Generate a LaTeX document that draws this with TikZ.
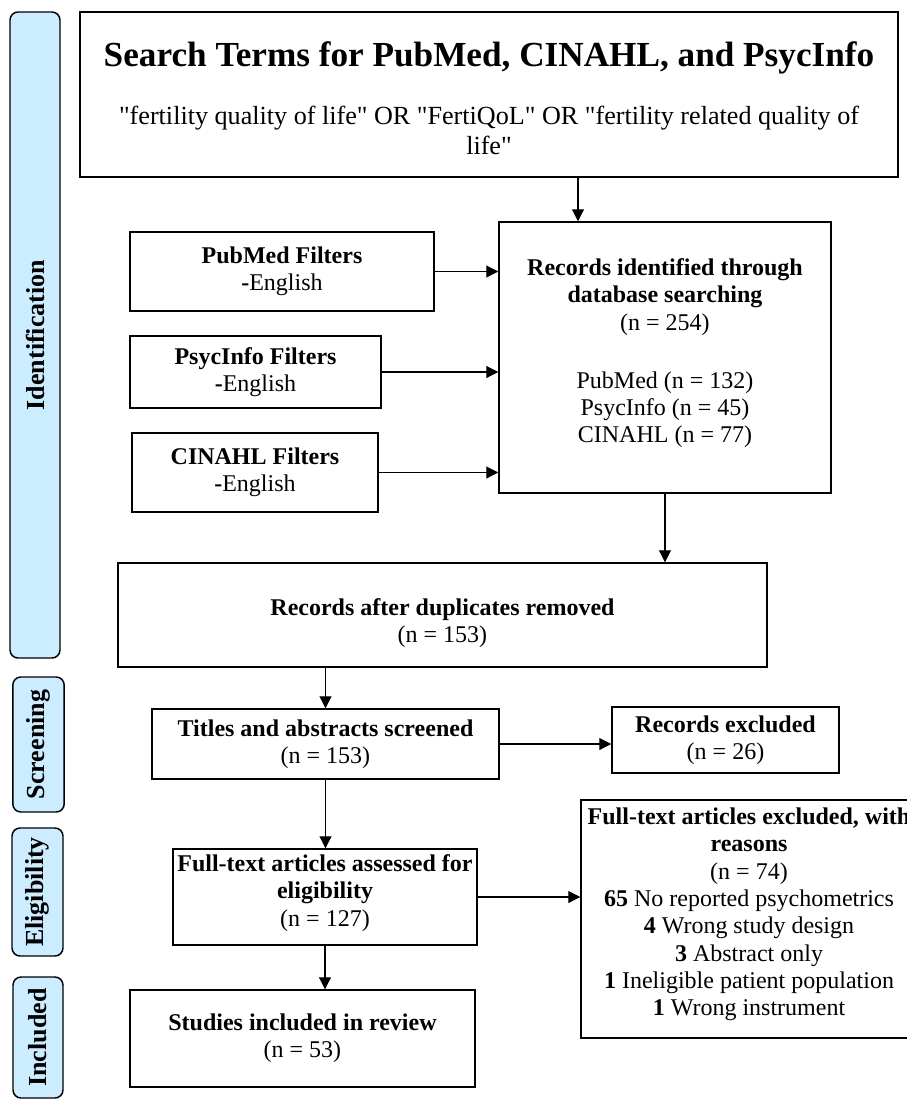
\documentclass[tikz,border=0pt]{standalone}
\usepackage{fontspec}
\setmainfont{Liberation Serif}
\usetikzlibrary{arrows.meta}
\definecolor{phaseblue}{RGB}{204,236,255}
\newcommand{\qq}{\textquotedbl}

\begin{document}
\begin{tikzpicture}[x=0.75pt,y=-0.75pt,>={Triangle[length=9pt,width=9pt]},
  box/.style={draw,line width=1.1pt,inner sep=0pt,align=center,
    font=\fontsize{18}{20.5}\selectfont},
  phasebox/.style={draw,line width=1.1pt,fill=phaseblue,rounded corners=6pt,
    rotate=90,inner sep=0pt,font=\fontsize{19.5}{22}\selectfont\bfseries},
  link/.style={->,line width=0.8pt}]
  \useasboundingbox (0,0) rectangle (907,1100);
  \clip (0,0) rectangle (907,1100);

  % phases on the left
  \node[phasebox,minimum width=484.5pt,minimum height=37.5pt] (ident) at (35,335) {Identification};
  \node[phasebox,minimum width=101.25pt,minimum height=38.5pt] (screen) at (38.5,744.5) {Screening};
  \node[phasebox,minimum width=96pt,minimum height=38.25pt] (elig) at (37.5,892) {Eligibility};
  \node[phasebox,minimum width=90.75pt,minimum height=37.5pt] (incl) at (38,1037.5) {Included};

  % identification
  \node[box,minimum width=613.5pt,minimum height=123.75pt,font=\fontsize{19.6}{22.5}\selectfont] (search) at (489,94.5)
    {{\fontsize{26.4}{30}\selectfont\bfseries\rule{0pt}{24pt}Search Terms for PubMed, CINAHL, and PsycInfo}\\[20.5pt]
     \qq fertility quality of life\qq{} OR \qq FertiQoL\qq{} OR \qq fertility related quality of\\ life\qq};
  \node[box,minimum width=249pt,minimum height=203.25pt] (rec) at (665,357.5)
    {\textbf{Records identified through}\\\textbf{database searching}\\(n = 254)\\[23pt]
     PubMed (n = 132)\\PsycInfo (n = 45)\\CINAHL (n = 77)\rule[-10pt]{0pt}{0pt}};
  \node[box,minimum width=228pt,minimum height=59.25pt] (pub) at (282,271.5)
    {\textbf{PubMed Filters}\\\textbf{-}English};
  \node[box,minimum width=188.25pt,minimum height=54pt] (psy) at (255.5,372)
    {\textbf{PsycInfo Filters}\\\textbf{-}English};
  \node[box,minimum width=184.5pt,minimum height=59.25pt] (cin) at (255,472.5)
    {\textbf{CINAHL Filters}\\\textbf{-}English};

  % screening
  \node[box,minimum width=486.75pt,minimum height=78pt] (dup) at (442.5,615)
    {\rule{0pt}{25pt}\textbf{Records after duplicates removed}\\(n = 153)};
  \node[box,minimum width=260.25pt,minimum height=52.5pt] (tit) at (325.5,744)
    {\textbf{Titles and abstracts screened}\\(n = 153)};
  \node[box,minimum width=170.25pt,minimum height=49.5pt] (exc1) at (725.5,740)
    {\textbf{Records excluded}\\(n = 26)};

  % eligibility and included
  \node[box,minimum width=228pt,minimum height=72pt] (ful) at (325,897)
    {\textbf{Full-text articles assessed for}\\\textbf{eligibility}\\(n = 127)\rule[-10pt]{0pt}{0pt}};
  \node[box,minimum width=252pt,minimum height=178.5pt] (exc2) at (749,919)
    {\textbf{Full-text articles excluded, with}\\\textbf{reasons}\\(n = 74)\\
     \textbf{65} No reported psychometrics\\\textbf{4} Wrong study design\\
     \textbf{3} Abstract only\\\textbf{1} Ineligible patient population\\
     \textbf{1} Wrong instrument\rule[-11pt]{0pt}{0pt}};
  \node[box,minimum width=258.75pt,minimum height=72.75pt] (inc) at (302.5,1038.5)
    {\textbf{Studies included in review}\\(n = 53)};

  \coordinate (drop) at (578,177);
  \draw[link] (drop) -- (drop |- rec.north);
  \draw[link] (pub.east) -- (pub.east -| rec.west);
  \draw[link] (psy.east) -- (psy.east -| rec.west);
  \draw[link] (cin.east) -- (cin.east -| rec.west);
  \draw[link] (rec.south) -- (rec.south |- dup.north);
  \draw[link] (tit.north |- dup.south) -- (tit.north);
  \draw[link] (tit.east) -- (tit.east -| exc1.west);
  \draw[link] (tit.south) -- (tit.south |- ful.north);
  \draw[link] (ful.east) -- (ful.east -| exc2.west);
  \draw[link] (ful.south) -- (ful.south |- inc.north);
\end{tikzpicture}
\end{document}
